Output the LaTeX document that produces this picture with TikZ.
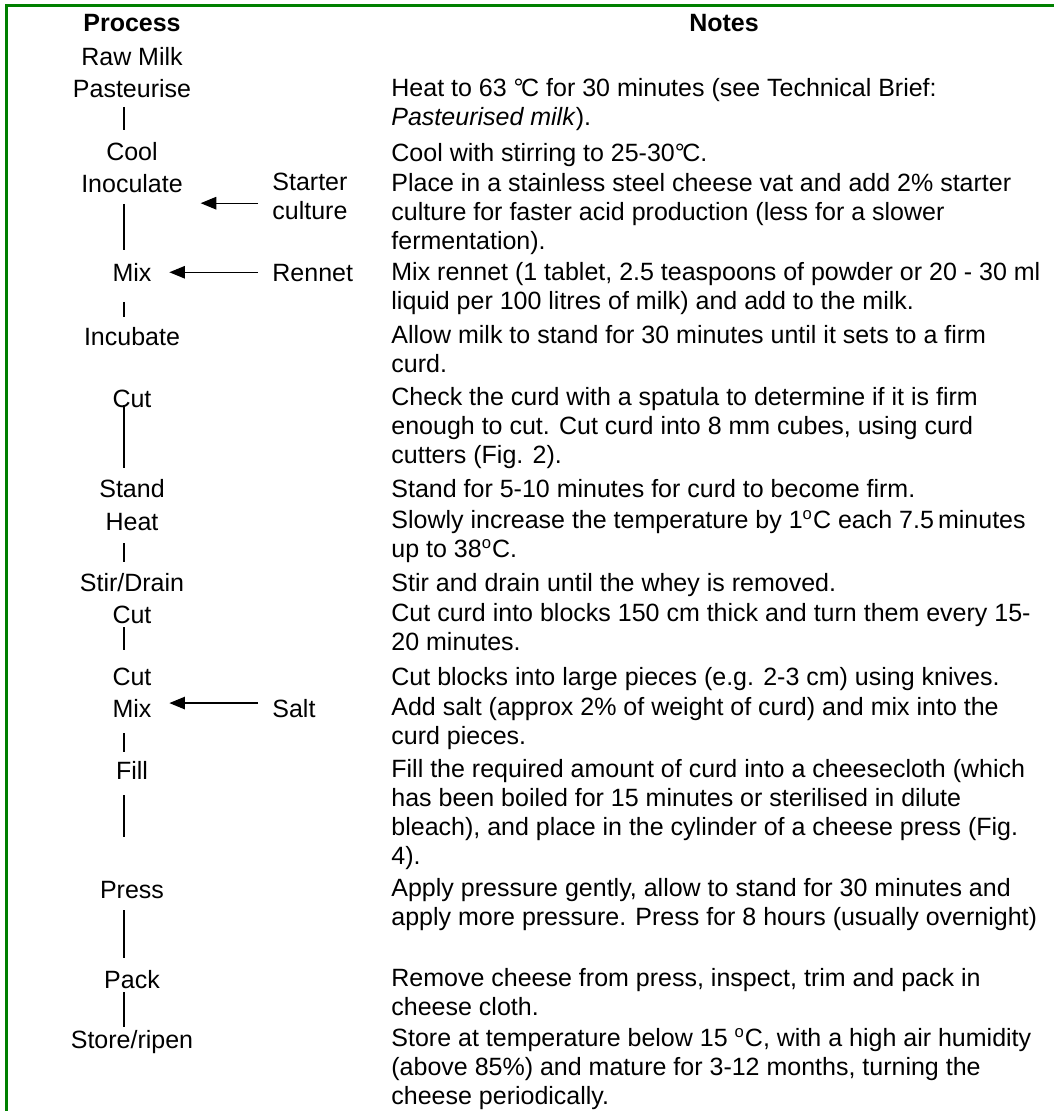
\documentclass[tikz,border=0pt]{standalone}
\usepackage{fontspec}
\setmainfont{Liberation Sans}
\usepackage{tikz}
\usetikzlibrary{arrows.meta}
\definecolor{framegreen}{HTML}{008000}
\newcommand{\dgc}{°\kern-0.1em C}

\begin{document}
\begin{tikzpicture}[x=0.48pt, y=-0.48pt,
    every node/.style={font=\fontsize{12}{13.92}\selectfont, inner sep=0pt},
    stepname/.style={anchor=base},
    note/.style={anchor=north west, align=left, execute at begin node=\strut},
    stem/.style={line width=0.65pt},
    feed/.style={line width=0.65pt, shorten <=6.7pt, shorten >=8.4pt, -{Triangle[length=7.5pt, width=6pt]}}]
  \useasboundingbox (0,0) rectangle (1054,1111);
  \draw[framegreen, line width=1.44pt] (6.5,1111) -- (6.5,5.5) -- (1054,5.5);

  \node[stepname, font=\fontsize{12}{13.92}\selectfont\bfseries] (hproc) at (132,32) {Process};
  \node[stepname, font=\fontsize{12}{13.92}\selectfont\bfseries] (hnote) at (724,32) {Notes};

  % process column
  \node[stepname] (raw) at (132,66) {Raw Milk};
  \node[stepname] (past) at (132,98) {Pasteurise};
  \node[stepname] (cool) at (132,161) {Cool};
  \node[stepname] (inoc) at (132,193) {Inoculate};
  \node[stepname] (mixa) at (132,282) {Mix};
  \node[stepname] (incub) at (132,345) {Incubate};
  \node[stepname] (cuta) at (132,407) {Cut};
  \node[stepname] (stand) at (132,497) {Stand};
  \node[stepname] (heat) at (132,530) {Heat};
  \node[stepname] (stir) at (132,591) {Stir/Drain};
  \node[stepname] (cutb) at (132,623) {Cut};
  \node[stepname] (cutc) at (132,685) {Cut};
  \node[stepname] (mixb) at (132,717) {Mix};
  \node[stepname] (fill) at (132,779) {Fill};
  \node[stepname] (press) at (132,898) {Press};
  \node[stepname] (pack) at (132,988) {Pack};
  \node[stepname] (store) at (132,1048) {Store/ripen};

  % inputs
  \node[note] (starter) at (272,172.7) {Starter\\culture};
  \node[stepname, anchor=base west] (rennet) at (272,282) {Rennet};
  \node[stepname, anchor=base west] (salt) at (272,717) {Salt};

  \draw[feed] ([yshift=-1.2pt]starter.west) -- ([yshift=-1.2pt]starter.west -| inoc.east);
  \draw[feed] ([yshift=0.6pt]rennet.west) -- ([yshift=0.6pt]rennet.west -| mixa.east);
  \draw[feed] ([yshift=2.4pt]salt.west) -- ([yshift=2.4pt]salt.west -| mixb.east);

  \foreach \a/\b/\t/\u in {past/cool/9/31, inoc/mixa/11/32, mixa/incub/20/28,
      cuta/stand/-2/29, heat/stir/13/29, cutb/cutc/4/35, mixb/fill/16/27,
      fill/press/16/61, press/pack/12/30, pack/store/4/21}
    \draw[stem] ([shift={(-8,\t)}]\a.base) -- ([shift={(-8,-\u)}]\b.base);

  % notes column
  \node[note] (npast) at (391,77.7) {Heat to 63 \dgc{} for 30 minutes (see Technical Brief:\\\textit{Pasteurised milk}).};
  \node[note] (ncool) at (391,140.7) {Cool with stirring to 25-30\dgc.};
  \node[note] (ninoc) at (391,172.7) {Place in a stainless steel cheese vat and add 2\% starter\\culture for faster acid production (less for a slower\\fermentation).};
  \node[note] (nmixa) at (391,261.7) {Mix rennet (1 tablet, 2.5 teaspoons of powder or 20 - 30 ml\\liquid per 100 litres of milk) and add to the milk.};
  \node[note] (nincub) at (391,324.7) {Allow milk to stand for 30 minutes until it sets to a firm\\curd.};
  \node[note] (ncuta) at (391,386.7) {Check the curd with a spatula to determine if it is firm\\enough to cut. Cut curd into 8 mm cubes, using curd\\cutters (Fig. 2).};
  \node[note] (nstand) at (391,476.7) {Stand for 5-10 minutes for curd to become firm.};
  \node[note] (nheat) at (391,509.7) {Slowly increase the temperature by 1\textsuperscript{o}C each 7.5\,minutes\\up to 38\textsuperscript{o}C.};
  \node[note] (nstir) at (391,570.7) {Stir and drain until the whey is removed.};
  \node[note] (ncutb) at (391,602.7) {Cut curd into blocks 150 cm thick and turn them every 15-\\20 minutes.};
  \node[note] (ncutc) at (391,664.7) {Cut blocks into large pieces (e.g. 2-3 cm) using knives.};
  \node[note] (nmixb) at (391,696.7) {Add salt (approx 2\% of weight of curd) and mix into the\\curd pieces.};
  \node[note] (nfill) at (391,758.7) {Fill the required amount of curd into a cheesecloth (which\\has been boiled for 15 minutes or sterilised in dilute\\bleach), and place in the cylinder of a cheese press (Fig.\\4).};
  \node[note] (npress) at (391,877.7) {Apply pressure gently, allow to stand for 30 minutes and\\apply more pressure. Press for 8 hours (usually overnight)};
  \node[note] (npack) at (391,967.7) {Remove cheese from press, inspect, trim and pack in\\cheese cloth.};
  \node[note] (nstore) at (391,1027.7) {Store at temperature below 15 \textsuperscript{o}C, with a high air humidity\\(above 85\%) and mature for 3-12 months, turning the\\cheese periodically.};
\end{tikzpicture}
\end{document}
